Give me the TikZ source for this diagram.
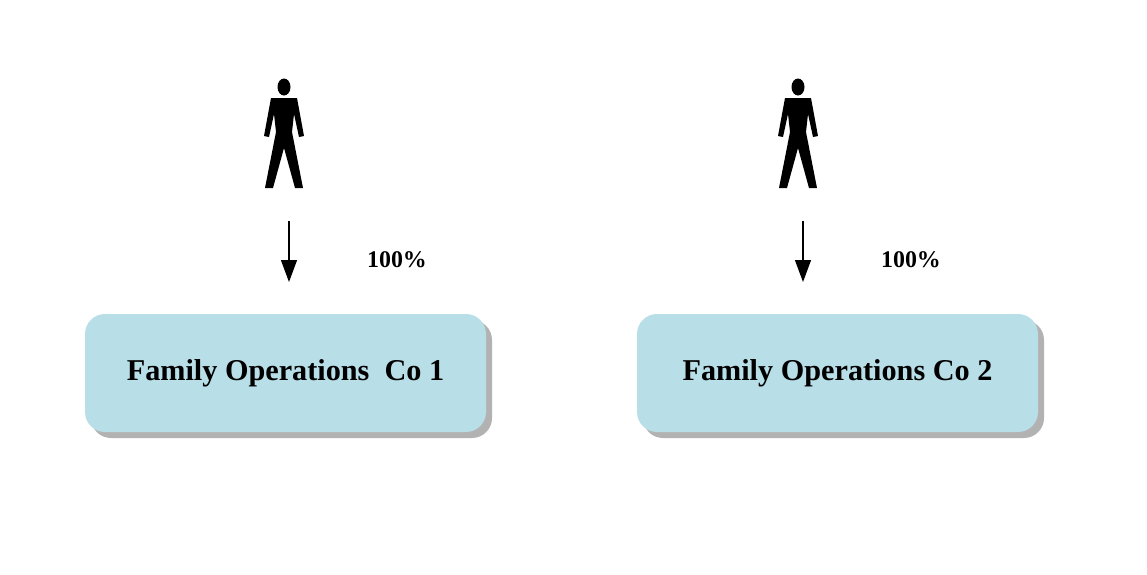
\documentclass[tikz,border=0pt]{standalone}
\usepackage{fontspec}
\setmainfont{Liberation Serif}
\usetikzlibrary{shadows,arrows.meta}
\begin{document}
\begin{tikzpicture}[x=0.025cm,y=-0.025cm,
  box/.style={rounded corners=20*0.025cm,fill={rgb,255:red,184;green,222;blue,232},minimum width=401*0.025cm,minimum height=118*0.025cm,drop shadow={shadow xshift=1.5mm,shadow yshift=-1.5mm,fill=black!60,opacity=0.5},font=\bfseries\fontsize{21.5}{26}\selectfont},
  pct/.style={font=\bfseries\fontsize{17}{20}\selectfont},
  arr/.style={-{Triangle[length=22*0.025cm,width=16*0.025cm]},line width=0.8pt}]
\useasboundingbox (0,0) rectangle (1147,574);
\foreach \d/\bd/\n/\t in {0/0/a/{Family Operations~~Co 1},514/552/b/{Family Operations Co 2}}{
  \begin{scope}[xshift=\d*0.025cm]
  \fill (284,87) ellipse [x radius=6.5,y radius=8.5];
  \fill (271,98)--(297,98)--(304,136)--(299,137)--(294,114)--(292,132)--(303,188)--(295,188)--(284,148)--(273,188)--(265,188)--(276,132)--(274,114)--(269,137)--(264,136)--cycle;
  \coordinate (s\n) at (289,221);
  \coordinate (e\n) at (289,282);
  \draw[arr] (s\n) -- (e\n);
  \node[pct] (p\n) at (397,260) {100\%};
  \end{scope}
  \begin{scope}[xshift=\bd*0.025cm]
  \node[box] (box\n) at (285.5,373) {\t};
  \end{scope}}
\end{tikzpicture}
\end{document}
